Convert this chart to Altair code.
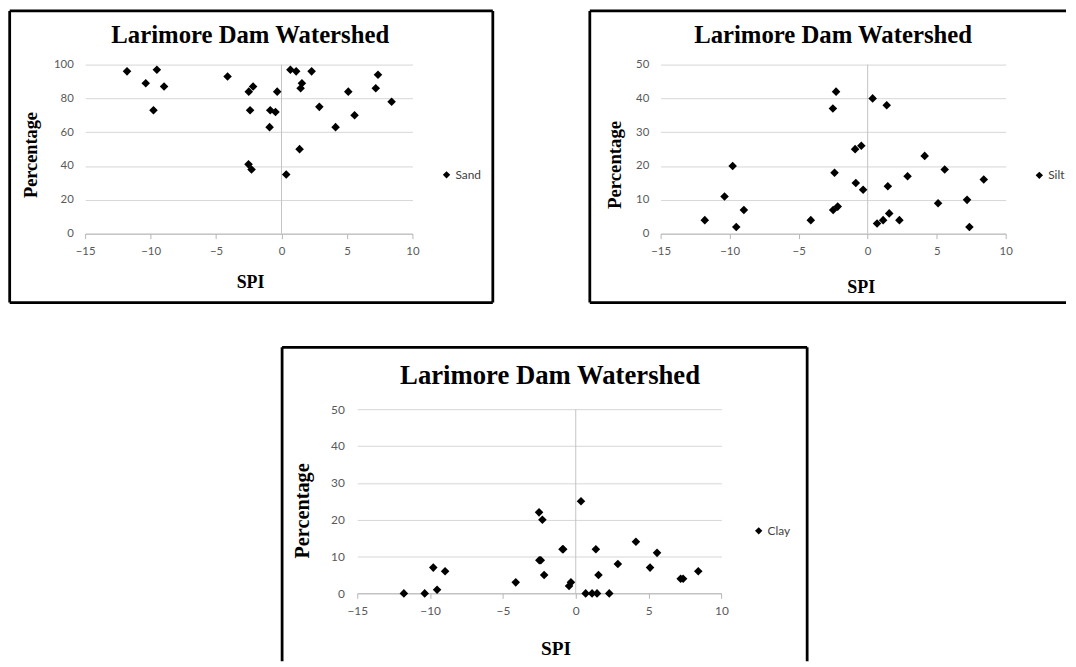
import altair as alt
import pandas as pd

# ---- data ----
spi = [-11.8, -10.37, -9.78, -9.52, -8.97, -4.12, -2.52, -2.29, -2.40, -2.50, -2.17,
       -0.91, -0.86, -0.46, -0.33, 0.36, 0.68, 1.12, 1.38, 1.46, 1.56, 2.30, 2.89,
       4.13, 5.10, 5.58, 7.20, 7.37, 8.41]
sand = [96, 89, 73, 97, 87, 93, 41, 38, 73, 84, 87, 63, 73, 72, 84, 35, 97, 96, 50,
        86, 89, 96, 75, 63, 84, 70, 86, 94, 78]
silt = [4, 11, 20, 2, 7, 4, 37, 42, 18, 7, 8, 25, 15, 26, 13, 40, 3, 4, 38, 14, 6,
        4, 17, 23, 9, 19, 10, 2, 16]
clay = [0, 0, 7, 1, 6, 3, 22, 20, 9, 9, 5, 12, 12, 2, 3, 25, 0, 0, 12, 0, 5, 0, 8,
        14, 7, 11, 4, 4, 6]
x_ticks = [-15, -10, -5, 0, 5, 10]
chart_title = "Larimore Dam Watershed"
x_title = "SPI"
y_title = "Percentage"

SERIF = "Liberation Serif"
SANS = "Lato"
GRID = "#d6d6d6"
AXIS = "#b5b5b5"
LABEL = "#595959"


def one_row():
    return pd.DataFrame({"t": [chart_title]})


def panel(name, values, ymax, ystep, c):
    W, H = c["w"], c["h"]
    df = pd.DataFrame({"SPI": spi, "Percentage": values, "series": [name] * len(spi)})
    xs = alt.Scale(domain=[-15, 10], nice=False, zero=False)
    ys = alt.Scale(domain=[0, ymax], nice=False, zero=True)
    points = alt.Chart(df).mark_point(
        shape="diamond", filled=True, size=75, color="black", opacity=1, strokeWidth=0
    ).encode(
        x=alt.X("SPI:Q", scale=xs, axis=alt.Axis(
            values=x_ticks, format="d", grid=False, domainColor=AXIS, domainWidth=1,
            tickColor=AXIS, tickSize=5, labelFont=SANS, labelFontSize=c["lfs"],
            labelColor=LABEL, labelPadding=7, labelFlush=False,
            title=x_title, titleFont=SERIF, titleFontWeight="bold",
            titleFontSize=c["xtfs"], titleColor="black", titleX=c["xtx"],
            titleY=c["xty"], titleBaseline="alphabetic", titleAlign="center")),
        y=alt.Y("Percentage:Q", scale=ys, axis=alt.Axis(
            values=list(range(0, ymax + 1, ystep)), domain=False, ticks=False,
            grid=True, gridColor=GRID, gridWidth=1, labelFont=SANS,
            labelFontSize=c["lfs"], labelColor=LABEL, labelPadding=c["lpad"],
            labelFlush=False, title=y_title, titleFont=SERIF,
            titleFontWeight="bold", titleFontSize=c["ytfs"], titleColor="black",
            titleAngle=270, titleX=c["ytx"], titleY=c["yty"],
            titleBaseline="alphabetic", titleAlign="center")),
        shape=alt.Shape("series:N", scale=alt.Scale(domain=[name], range=["diamond"]),
                        legend=alt.Legend(
                            orient="none", legendX=c["lgx"], legendY=c["lgy"],
                            title=None, padding=0, symbolType="diamond",
                            symbolSize=55, symbolFillColor="black",
                            symbolStrokeColor="black", symbolStrokeWidth=0,
                            labelFont=SANS, labelFontSize=12, labelColor="#404040",
                            labelOffset=3)),
    )
    zero = alt.Chart(pd.DataFrame({"SPI": [0]})).mark_rule(
        color="#c3c3c3", strokeWidth=1
    ).encode(x=alt.X("SPI:Q", scale=xs), y=alt.value(0), y2=alt.value(H))
    title = alt.Chart(one_row()).mark_text(
        font=SERIF, fontWeight="bold", fontSize=c["tfs"], align="center",
        baseline="alphabetic", color="black"
    ).encode(x=alt.value(c["tx"]), y=alt.value(c["ty"]), text="t:N")
    layers = [zero, points, title]
    for (x1, x2, y1, y2) in c["frame"]:
        enc = {"x": alt.value(x1), "y": alt.value(y1)}
        if x2 is not None:
            enc["x2"] = alt.value(x2)
        if y2 is not None:
            enc["y2"] = alt.value(y2)
        layers.append(alt.Chart(one_row()).mark_rule(
            color="black", strokeWidth=2.8).encode(**enc))
    return alt.layer(*layers).properties(width=W, height=H)


c1 = dict(w=331, h=171, lfs=11.5, lpad=12, xtfs=18, xtx=166.7, xty=54,
          ytfs=18.5, ytx=-49, yty=91, lgx=359.5, lgy=105.5, tfs=25, tx=167, ty=-22.3,
          frame=[(-76.3, 412.3, -54.3, None), (-76.3, 412.3, 240.7, None),
                 (-76.3, None, -54.3, 240.7), (412.3, None, -54.3, 240.7)])
c2 = dict(w=349, h=171, lfs=11.5, lpad=12, xtfs=18.2, xtx=202.5, xty=60,
          ytfs=19, ytx=-41, yty=101, lgx=377, lgy=106, tfs=25, tx=174.4, ty=-22.3,
          frame=[(-71.6, 410, -54.3, None), (-71.6, 410, 240.7, None),
                 (-71.6, None, -54.3, 240.7)])
c3 = dict(w=368.3, h=186.3, lfs=12, lpad=13, xtfs=19.5, xtx=200.4, xty=62,
          ytfs=20.5, ytx=-49, yty=102.4, lgx=400, lgy=117, tfs=27, tx=195, ty=-25,
          frame=[(-76, 455, -62.6, None), (-76, None, -62.6, 255),
                 (455, None, -62.6, 255)])

p1 = panel("Sand", sand, 100, 20, c1)
p2 = panel("Silt", silt, 50, 10, c2)
p3 = panel("Clay", clay, 50, 10, c3)

# invisible spacer that pushes the lower panel to the right
spacer = alt.Chart(one_row()).mark_rect(opacity=0).encode(
    x=alt.value(0), x2=alt.value(1), y=alt.value(0), y2=alt.value(1)
).properties(width=1, height=1)

res = dict(x="independent", y="independent", shape="independent")
row1 = alt.hconcat(p1, p2, spacing=95).resolve_scale(**res).resolve_legend(shape="independent")
row2 = alt.hconcat(spacer, p3, spacing=196.2).resolve_scale(**res).resolve_legend(shape="independent")

chart = alt.vconcat(row1, row2, spacing=41.5).resolve_scale(**res).resolve_legend(
    shape="independent"
).properties(
    padding={"top": -2.5, "left": 0, "right": 0, "bottom": 0}, background="white"
).configure_view(strokeWidth=0)

chart.save("out.html", embed_options={"renderer": "svg", "actions": False})
